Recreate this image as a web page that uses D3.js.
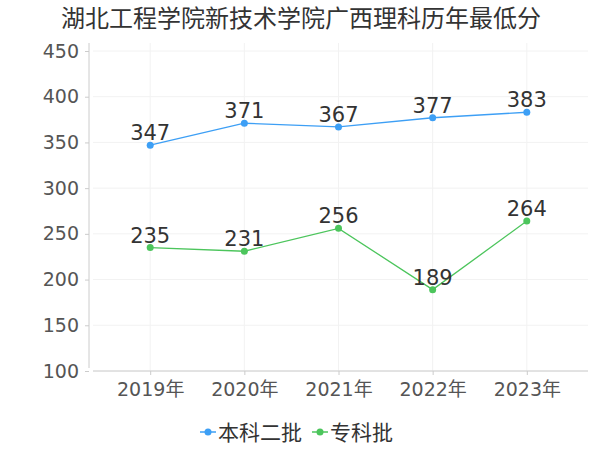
<!DOCTYPE html>
<meta charset="utf-8">
<html lang="zh">
<style>
body { margin: 0; background: #fff; }
.grid line { stroke: #f2f2f2; }
text { font-family: "DejaVu Sans", "Noto Sans CJK SC", sans-serif; }
</style>
<body>
<script src="https://d3js.org/d3.v7.min.js"></script>
<script>

var years = ["2019年", "2020年", "2021年", "2022年", "2023年"];
var benke = [347, 371, 367, 377, 383];
var zhuanke = [235, 231, 256, 189, 264];
var seriesNames = ["本科二批", "专科批"];
var colors = ["#3d9ff5", "#4cc55c"];
var yTicks = [100, 150, 200, 250, 300, 350, 400, 450];

var width = 600, height = 450;
var plotLeft = 89, plotRight = 588, plotTop = 51, plotBottom = 371;

var svg = d3.select("body").append("svg")
    .attr("width", width)
    .attr("height", height);

var x = d3.scalePoint().domain(years).range([plotLeft, plotRight]).padding(0.65);
var y = d3.scaleLinear().domain([100, 450]).range([plotBottom, plotTop]);

// title
svg.append("text")
    .attr("x", 301).attr("y", 27)
    .attr("text-anchor", "middle")
    .style("font-family", "'Noto Sans CJK SC', sans-serif")
    .style("font-size", "24px")
    .attr("fill", "#333")
    .text("湖北工程学院新技术学院广西理科历年最低分");

// grid lines
var grid = svg.append("g").attr("class", "grid");
grid.selectAll("line.h").data(yTicks).enter().append("line")
    .attr("x1", plotLeft + 4).attr("x2", plotRight)
    .attr("y1", function(d) { return y(d); })
    .attr("y2", function(d) { return y(d); });
grid.selectAll("line.v").data(years).enter().append("line")
    .attr("x1", function(d) { return x(d); })
    .attr("x2", function(d) { return x(d); })
    .attr("y1", plotTop - 8).attr("y2", plotBottom);

// y axis
var yAxis = svg.append("g")
    .attr("transform", "translate(" + plotLeft + ",0)")
    .call(d3.axisLeft(y).tickValues(yTicks).tickSize(4).tickPadding(6));
yAxis.select(".domain").attr("d", "M0," + (plotTop - 8) + "V" + (plotBottom - 3)).attr("stroke", "#ccc");
yAxis.selectAll(".tick line").attr("stroke", "#ccc");
yAxis.selectAll("text").attr("fill", "#555").style("font-size", "19px");

// x axis
var xAxis = svg.append("g")
    .attr("transform", "translate(0," + plotBottom + ")")
    .call(d3.axisBottom(x).tickSize(4).tickPadding(8));
xAxis.select(".domain").attr("d", "M" + (plotLeft + 4) + ",0H" + plotRight).attr("stroke", "#ccc");
xAxis.selectAll(".tick line").attr("stroke", "#ccc");
xAxis.selectAll("text").attr("fill", "#555").style("font-size", "19px");

// lines
var line = d3.line()
    .x(function(d, i) { return x(years[i]); })
    .y(function(d) { return y(d); });

[benke, zhuanke].forEach(function(data, k) {
  svg.append("path")
      .datum(data)
      .attr("fill", "none")
      .attr("stroke", colors[k])
      .attr("stroke-width", 1.3)
      .attr("d", line);

  svg.selectAll("circle.s" + k).data(data).enter().append("circle")
      .attr("cx", function(d, i) { return x(years[i]); })
      .attr("cy", function(d) { return y(d); })
      .attr("r", 3.5)
      .attr("fill", colors[k]);

  svg.selectAll("text.s" + k).data(data).enter().append("text")
      .attr("x", function(d, i) { return x(years[i]); })
      .attr("y", function(d) { return y(d) - 5; })
      .attr("text-anchor", "middle")
      .attr("fill", "#333")
      .style("font-size", "21px")
      .text(function(d) { return d; });
});

// legend
var legend = svg.append("g");
var lx = [200, 312];
seriesNames.forEach(function(name, k) {
  var g = legend.append("g").attr("transform", "translate(" + lx[k] + ",432)");
  g.append("line").attr("x1", 0).attr("x2", 16)
      .attr("stroke", colors[k]).attr("stroke-width", 1.5);
  g.append("circle").attr("cx", 8).attr("r", 3.5).attr("fill", colors[k]);
  g.append("text").attr("x", 18).attr("y", 8)
      .style("font-family", "'Noto Sans CJK SC', sans-serif")
      .style("font-size", "21px")
      .attr("fill", "#333")
      .text(name);
});

</script>
</body>
</html>
